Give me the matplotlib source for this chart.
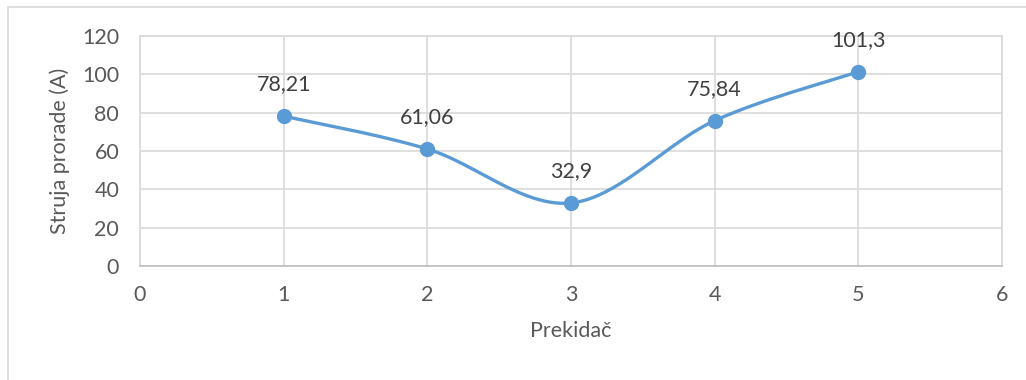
import numpy as np
import matplotlib
matplotlib.use('Agg')
from matplotlib import pyplot as plt
from matplotlib.patches import Rectangle

# data
prekidac = [1, 2, 3, 4, 5]
struja = [78.21, 61.06, 32.9, 75.84, 101.3]
labels = ['78,21', '61,06', '32,9', '75,84', '101,3']
xticks = [0, 1, 2, 3, 4, 5, 6]
yticks = [0, 20, 40, 60, 80, 100, 120]

line_color = '#5B9BD5'
text_color = '#595959'
grid_color = '#D9D9D9'

plt.rcParams['font.family'] = ['Lato', 'DejaVu Sans']


def smooth(x, y, n=40):
    # Excel-style smoothed line: cubic bezier with catmull-rom control points
    x = np.asarray(x, float)
    y = np.asarray(y, float)
    xs, ys = [], []
    for i in range(len(x) - 1):
        p0 = np.array([x[max(i - 1, 0)], y[max(i - 1, 0)]])
        p1 = np.array([x[i], y[i]])
        p2 = np.array([x[i + 1], y[i + 1]])
        p3 = np.array([x[min(i + 2, len(x) - 1)], y[min(i + 2, len(x) - 1)]])
        c1 = p1 + (p2 - p0) / 6.0
        c2 = p2 - (p3 - p1) / 6.0
        t = np.linspace(0, 1, n)[:, None]
        pts = ((1 - t) ** 3) * p1 + 3 * ((1 - t) ** 2) * t * c1 + 3 * (1 - t) * t ** 2 * c2 + t ** 3 * p2
        xs.extend(pts[:, 0])
        ys.extend(pts[:, 1])
    return xs, ys


fig = plt.figure(figsize=[10.26, 3.8], dpi=100)
ax = fig.add_axes([140 / 1026, 1 - 266 / 380, (1002 - 140) / 1026, (266 - 36) / 380])

# outer chart border (only top and left are visible in the crop)
fig.patches.append(Rectangle((8 / 1026, -0.1), 1.2, 1 - 7 / 380 + 0.1, transform=fig.transFigure,
                             fill=False, edgecolor=grid_color, linewidth=1.2))

sx, sy = smooth(prekidac, struja)
ax.plot(sx, sy, color=line_color, linewidth=2.4, solid_capstyle='round', zorder=3)
ax.plot(prekidac, struja, 'o', color=line_color, markersize=10, zorder=4)

for xv, yv, lab in zip(prekidac, struja, labels):
    ax.annotate(lab, (xv, yv), xytext=(0, 23), textcoords='offset points',
                ha='center', va='center', fontsize=15.5, color='#404040')

ax.set_xlim(0, 6)
ax.set_ylim(0, 120)
ax.set_xticks(xticks)
ax.set_yticks(yticks)
ax.grid(True, color=grid_color, linewidth=1.2)
ax.set_axisbelow(True)
for s in ax.spines.values():
    s.set_color(grid_color)
    s.set_linewidth(1.2)
ax.spines['bottom'].set_color('#BFBFBF')
ax.tick_params(length=0, labelsize=15.5, labelcolor=text_color)
ax.tick_params(axis='x', pad=14)
ax.tick_params(axis='y', pad=15)
ax.set_xlabel('Prekidač', fontsize=15.5, color=text_color, labelpad=11)
ax.set_ylabel('Struja prorade (A)', fontsize=15.5, color=text_color, labelpad=9)

fig.savefig('out.png', dpi=100)
